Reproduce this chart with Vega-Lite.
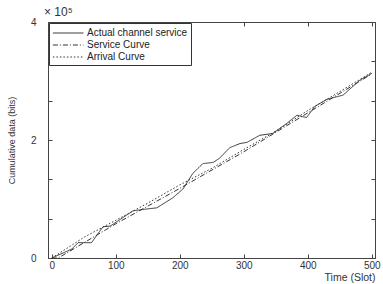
{
  "$schema": "https://vega.github.io/schema/vega-lite/v6.json",
  "width": 327,
  "height": 236,
  "autosize": {"type": "none"},
  "padding": {"left": 48, "top": 22, "right": 8, "bottom": 26},
  "background": "white",
  "config": {
    "view": {"stroke": "#444", "strokeWidth": 1},
    "font": "Liberation Sans"
  },
  "data": {"values": [
    {"t": 0, "v": 0, "s": "Actual channel service"},
    {"t": 31, "v": 15000, "s": "Actual channel service"},
    {"t": 41, "v": 26000, "s": "Actual channel service"},
    {"t": 62, "v": 26000, "s": "Actual channel service"},
    {"t": 80, "v": 53000, "s": "Actual channel service"},
    {"t": 91, "v": 54000, "s": "Actual channel service"},
    {"t": 127, "v": 80000, "s": "Actual channel service"},
    {"t": 148, "v": 83000, "s": "Actual channel service"},
    {"t": 164, "v": 85000, "s": "Actual channel service"},
    {"t": 189, "v": 102000, "s": "Actual channel service"},
    {"t": 205, "v": 117000, "s": "Actual channel service"},
    {"t": 220, "v": 143000, "s": "Actual channel service"},
    {"t": 236, "v": 160000, "s": "Actual channel service"},
    {"t": 252, "v": 162000, "s": "Actual channel service"},
    {"t": 262, "v": 169000, "s": "Actual channel service"},
    {"t": 278, "v": 187000, "s": "Actual channel service"},
    {"t": 294, "v": 194000, "s": "Actual channel service"},
    {"t": 305, "v": 196000, "s": "Actual channel service"},
    {"t": 325, "v": 208000, "s": "Actual channel service"},
    {"t": 345, "v": 211000, "s": "Actual channel service"},
    {"t": 367, "v": 228000, "s": "Actual channel service"},
    {"t": 383, "v": 242000, "s": "Actual channel service"},
    {"t": 398, "v": 238000, "s": "Actual channel service"},
    {"t": 411, "v": 257000, "s": "Actual channel service"},
    {"t": 430, "v": 269000, "s": "Actual channel service"},
    {"t": 455, "v": 276000, "s": "Actual channel service"},
    {"t": 481, "v": 301000, "s": "Actual channel service"},
    {"t": 500, "v": 313000, "s": "Actual channel service"},
    {"t": 0, "v": 0, "s": "Service Curve"},
    {"t": 10, "v": 0, "s": "Service Curve"},
    {"t": 100, "v": 58000, "s": "Service Curve"},
    {"t": 200, "v": 118000, "s": "Service Curve"},
    {"t": 300, "v": 180000, "s": "Service Curve"},
    {"t": 400, "v": 246000, "s": "Service Curve"},
    {"t": 500, "v": 312000, "s": "Service Curve"},
    {"t": 0, "v": 0, "s": "Arrival Curve"},
    {"t": 50, "v": 35000, "s": "Arrival Curve"},
    {"t": 100, "v": 64000, "s": "Arrival Curve"},
    {"t": 150, "v": 93000, "s": "Arrival Curve"},
    {"t": 200, "v": 124000, "s": "Arrival Curve"},
    {"t": 250, "v": 152000, "s": "Arrival Curve"},
    {"t": 300, "v": 184000, "s": "Arrival Curve"},
    {"t": 350, "v": 215000, "s": "Arrival Curve"},
    {"t": 400, "v": 250000, "s": "Arrival Curve"},
    {"t": 450, "v": 282000, "s": "Arrival Curve"},
    {"t": 500, "v": 315000, "s": "Arrival Curve"}
  ]},
  "resolve": {"axis": {"x": "independent", "y": "independent"}},
  "layer": [
    {
      "mark": {"type": "line", "strokeWidth": 1, "color": "#333"},
      "encoding": {
        "x": {"field": "t", "type": "quantitative", "scale": {"domain": [-6, 505], "nice": false, "zero": false},
          "axis": {"values": [0, 100, 200, 300, 400, 500], "title": "Time (Slot)", "titleAnchor": "end", "titleFontSize": 10.5, "titleFontWeight": "normal", "titleColor": "#333", "titlePadding": 2, "labelFontSize": 10, "labelColor": "#333", "tickSize": -4, "tickColor": "#444", "domainColor": "#444", "labelPadding": 6, "grid": false, "labelFlush": false}},
        "y": {"field": "v", "type": "quantitative", "scale": {"domain": [0, 400000], "nice": false},
          "axis": {"values": [0, 66667, 133333, 200000, 266667, 333333, 400000], "labelExpr": "datum.value % 200000 == 0 ? format(datum.value/100000, 'd') : ''", "title": "Cumulative data (bits)", "titleFontSize": 9, "titleFontWeight": "normal", "titleColor": "#333", "titlePadding": 14, "labelFontSize": 10, "labelColor": "#333", "tickSize": -4, "tickColor": "#444", "domainColor": "#444", "labelPadding": 16, "grid": false}},
        "detail": {"field": "s"},
        "strokeDash": {"field": "s", "type": "nominal",
          "scale": {"domain": ["Actual channel service", "Service Curve", "Arrival Curve"], "range": [[1, 0], [5, 2, 1, 2], [1.5, 2]]},
          "legend": {"title": null, "orient": "top-left", "offset": 1, "strokeColor": "#333", "fillColor": "white", "padding": 3, "labelFontSize": 10, "labelColor": "#222", "symbolType": "M-1,0H4", "symbolSize": 150, "symbolStrokeColor": "#333", "symbolStrokeWidth": 1, "rowPadding": -1, "labelOffset": 21}}
      }
    },
    {
      "transform": [{"filter": "datum.t == 0 && datum.s == 'Actual channel service'"}],
      "mark": {"type": "text", "align": "left", "baseline": "bottom", "fontSize": 12, "color": "#333", "dx": -4, "dy": -3},
      "encoding": {
        "x": {"datum": -6, "type": "quantitative", "axis": {"orient": "top", "values": [0, 100, 200, 300, 400, 500], "labels": false, "title": null, "tickSize": -4, "tickColor": "#444", "domainColor": "#444", "grid": false}},
        "y": {"datum": 400000, "type": "quantitative", "axis": {"orient": "right", "values": [0, 66667, 133333, 200000, 266667, 333333, 400000], "labels": false, "title": null, "tickSize": -4, "tickColor": "#444", "domainColor": "#444", "grid": false}},
        "text": {"value": "× 10⁵"}
      }
    }
  ]
}
